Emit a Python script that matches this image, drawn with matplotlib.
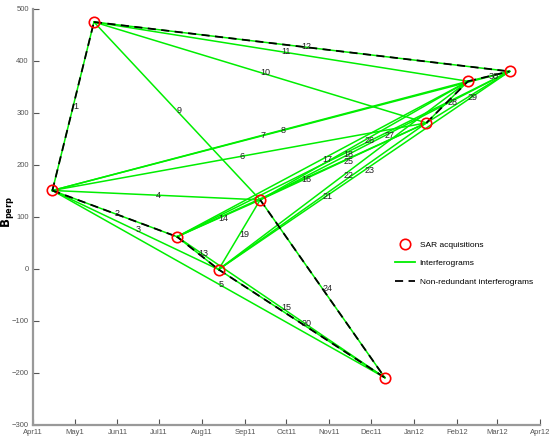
import matplotlib
matplotlib.use("Agg")
import matplotlib.pyplot as plt
import matplotlib.dates as mdates
from matplotlib.lines import Line2D
import datetime as dt

plt.rcParams['font.family'] = ['Liberation Sans', 'DejaVu Sans']

# SAR acquisition dates and perpendicular baselines (m)
acq_dates = ["2011-04-15", "2011-05-15", "2011-07-14", "2011-08-13", "2011-09-12",
             "2011-12-11", "2012-01-10", "2012-02-09", "2012-03-10"]
bperp = [151, 475, 62, -1, 133, -209, 281, 361, 380]

# Interferogram pairs (1-based acquisition indices), numbered 1..30
ifg_master = [1, 1, 1, 1, 1, 1, 1, 1, 2, 2, 2, 2, 3, 3, 3, 3, 3, 3, 4, 4, 4, 4, 4, 5, 5, 5, 5, 7, 7, 8]
ifg_slave  = [2, 3, 4, 5, 6, 7, 8, 9, 5, 7, 8, 9, 4, 5, 6, 7, 8, 9, 5, 6, 7, 8, 9, 6, 7, 8, 9, 8, 9, 9]

# Non-redundant interferograms (by number)
nonred_ids = [1, 2, 12, 13, 20, 24, 28, 30]

tick_months = ["2011-04-01", "2011-05-01", "2011-06-01", "2011-07-01", "2011-08-01",
               "2011-09-01", "2011-10-01", "2011-11-01", "2011-12-01", "2012-01-01",
               "2012-02-01", "2012-03-01", "2012-04-01"]
tick_labels = ["Apr11", "May1", "Jun11", "Jul11", "Aug11", "Sep11", "Oct11",
               "Nov11", "Dec11", "Jan12", "Feb12", "Mar12", "Apr12"]
yticks = [-300, -200, -100, 0, 100, 200, 300, 400, 500]

dates = [mdates.date2num(dt.datetime.strptime(d, "%Y-%m-%d")) for d in acq_dates]
tpos = [mdates.date2num(dt.datetime.strptime(d, "%Y-%m-%d")) for d in tick_months]

fig = plt.figure(figsize=(5.5, 4.41), dpi=100)
ax = fig.add_axes([0.06, 0.0363, 0.9218, 0.9433])

green = '#00ee00'
dash = (0, (4.5, 3))
for k, (m, s) in enumerate(zip(ifg_master, ifg_slave)):
    x = [dates[m - 1], dates[s - 1]]
    y = [bperp[m - 1], bperp[s - 1]]
    ax.plot(x, y, color=green, lw=1.1, zorder=2)
for k in nonred_ids:
    m, s = ifg_master[k - 1], ifg_slave[k - 1]
    ax.plot([dates[m - 1], dates[s - 1]], [bperp[m - 1], bperp[s - 1]],
            color='black', lw=1.3, ls=dash, zorder=3)
for k, (m, s) in enumerate(zip(ifg_master, ifg_slave)):
    xm = (dates[m - 1] + dates[s - 1]) / 2
    ym = (bperp[m - 1] + bperp[s - 1]) / 2
    ax.text(xm, ym, str(k + 1), fontsize=6.5, color='#222222', ha='left', va='center', zorder=5)

ax.plot(dates, bperp, ls='none', marker='o', ms=7.5, mfc='none', mec='red', mew=1.2, zorder=4)

ax.set_xlim(tpos[0], tpos[-1])
ax.set_ylim(-300, 500)
ax.set_xticks(tpos)
ax.set_xticklabels(tick_labels)
ax.set_yticks(yticks)
ax.tick_params(direction='in', labelsize=5.5, colors='#555555', length=4, width=0.8, pad=3)
for side in ['top', 'right']:
    ax.spines[side].set_visible(False)
for side in ['left', 'bottom']:
    ax.spines[side].set_color('#999999')
    ax.spines[side].set_linewidth(1.6)
fig.text(8 / 550, 0.52, r'$\mathbf{B_{perp}}$', fontsize=8.5, rotation=90,
         ha='center', va='center')

handles = [Line2D([], [], ls='none', marker='o', ms=7.5, mfc='none', mec='red', mew=1.2),
           Line2D([], [], color=green, lw=1.3),
           Line2D([], [], color='black', lw=1.3, ls=dash)]
ax.legend(handles, ['SAR acquisitions', 'Interferograms', 'Non-redundant interferograms'],
          loc='upper left', bbox_to_anchor=(0.70, 0.461), frameon=False, fontsize=6,
          handlelength=2.3, labelspacing=1.3, handletextpad=0.6)

fig.savefig("out.png", dpi=100)
